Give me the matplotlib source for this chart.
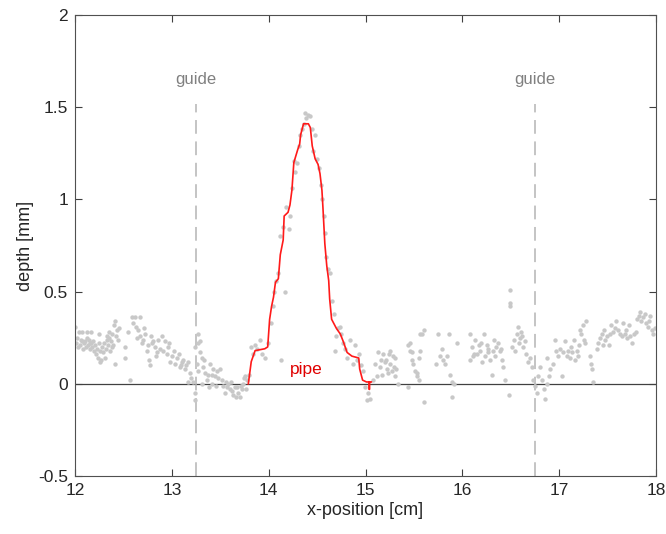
import matplotlib
matplotlib.use('Agg')
import matplotlib.pyplot as plt

plt.rcParams['font.family'] = ['Liberation Sans', 'DejaVu Sans']

# measured scan points (x in cm, depth in mm)
scan_left_x = [12.00, 12.01, 12.02, 12.03, 12.04, 12.05, 12.06, 12.07, 12.08, 12.09,
               12.10, 12.11, 12.12, 12.13, 12.14, 12.15, 12.16, 12.17, 12.18, 12.19,
               12.20, 12.21, 12.22, 12.23, 12.24, 12.25, 12.26, 12.27, 12.28, 12.29,
               12.30, 12.31, 12.32, 12.33, 12.34, 12.35, 12.36, 12.37, 12.38, 12.39,
               12.40, 12.41, 12.42, 12.43, 12.44, 12.45, 12.25, 12.33, 12.07, 12.12,
               12.17, 12.35, 12.38, 12.41, 12.26]
scan_left_y = [0.31, 0.22, 0.25, 0.20, 0.28, 0.21, 0.24, 0.28, 0.19, 0.22,
               0.23, 0.20, 0.28, 0.21, 0.24, 0.19, 0.22, 0.28, 0.20, 0.23,
               0.18, 0.21, 0.16, 0.19, 0.14, 0.22, 0.18, 0.13, 0.20, 0.17,
               0.22, 0.14, 0.19, 0.24, 0.21, 0.25, 0.18, 0.23, 0.27, 0.21,
               0.32, 0.34, 0.26, 0.29, 0.24, 0.30, 0.27, 0.26, 0.23, 0.25,
               0.22, 0.28, 0.20, 0.11, 0.12]

scan_mid_x = [12.52, 12.52, 12.55, 12.57, 12.59, 12.60, 12.62, 12.65, 12.67, 12.67,
              12.69, 12.72, 12.74, 12.76, 12.77, 12.79, 12.81, 12.83, 12.84, 12.86,
              12.88, 12.90, 12.91, 12.93, 12.95, 12.96, 12.98, 13.00, 13.02, 13.03,
              13.05, 13.07, 13.08, 13.10, 13.12, 13.14, 13.15, 13.17, 13.17, 13.19,
              13.20, 13.22, 13.24, 13.24, 13.24, 12.63, 12.70, 12.75, 12.85, 12.64,
              12.97, 13.09, 12.80, 12.71]
scan_mid_y = [0.20, 0.14, 0.28, 0.02, 0.36, 0.33, 0.36, 0.29, 0.36, 0.26,
              0.22, 0.27, 0.18, 0.13, 0.10, 0.26, 0.23, 0.20, 0.15, 0.24,
              0.19, 0.26, 0.18, 0.23, 0.16, 0.20, 0.12, 0.15, 0.18, 0.11,
              0.14, 0.16, 0.09, 0.12, 0.13, 0.08, 0.10, 0.12, 0.01, 0.06,
              0.03, 0.01, -0.05, -0.09, 0.20, 0.31, 0.24, 0.21, 0.17, 0.25,
              0.22, 0.10, 0.22, 0.30]

scan_dip_x = [13.26, 13.27, 13.27, 13.27, 13.29, 13.31, 13.31, 13.32, 13.34, 13.36,
              13.38, 13.39, 13.41, 13.43, 13.45, 13.46, 13.48, 13.50, 13.52, 13.53,
              13.55, 13.56, 13.58, 13.60, 13.62, 13.63, 13.65, 13.67, 13.68, 13.70,
              13.72, 13.74, 13.76, 13.77, 13.78, 13.29, 13.33, 13.37, 13.41, 13.47,
              13.57, 13.61, 13.66, 13.71, 13.75]
scan_dip_y = [0.11, 0.27, 0.22, 0.07, 0.17, 0.14, 0.00, 0.09, 0.06, 0.02,
              -0.02, 0.11, 0.05, 0.08, 0.04, -0.01, 0.03, 0.08, 0.02, -0.01,
              -0.05, 0.01, 0.00, -0.03, -0.04, -0.06, -0.02, -0.02, -0.05, -0.07,
              -0.03, 0.00, 0.04, -0.03, 0.02, 0.23, 0.13, 0.05, 0.00, 0.07,
              -0.02, 0.01, -0.07, -0.01, 0.03]

scan_peak_x = [13.80, 13.82, 13.84, 13.86, 13.88, 13.91, 13.93, 13.96, 13.99, 14.02,
               14.04, 14.06, 14.08, 14.10, 14.12, 14.13, 14.15, 14.17, 14.18, 14.21,
               14.22, 14.24, 14.26, 14.27, 14.29, 14.31, 14.32, 14.34, 14.36, 14.38,
               14.39, 14.41, 14.43, 14.45, 14.46, 14.48, 14.50, 14.52, 14.54, 14.55,
               14.57, 14.58, 14.59, 14.61, 14.63, 14.65, 14.67, 14.69, 14.70, 14.72,
               14.74, 14.75, 14.77, 14.79, 14.81, 14.84, 14.87, 14.89, 14.91, 14.93,
               14.95, 14.97, 14.99, 15.02, 15.03, 15.05]
scan_peak_y = [0.05, 0.20, 0.16, 0.21, 0.19, 0.24, 0.16, 0.14, 0.22, 0.33,
               0.42, 0.50, 0.56, 0.60, 0.80, 0.13, 0.85, 0.50, 0.96, 0.84,
               0.91, 1.06, 1.21, 1.15, 1.20, 1.29, 1.35, 1.38, 1.41, 1.47,
               1.44, 1.46, 1.45, 1.38, 1.26, 1.35, 1.22, 1.17, 1.08, 1.00,
               0.91, 0.82, 0.69, 0.62, 0.60, 0.45, 0.38, 0.18, 0.26, 0.30,
               0.31, 0.27, 0.22, 0.19, 0.14, 0.24, 0.11, 0.21, 0.13, 0.16,
               0.10, 0.07, -0.02, -0.09, -0.05, -0.08]

scan_flat_x = [15.08, 15.10, 15.12, 15.13, 15.15, 15.17, 15.18, 15.20, 15.21, 15.22,
               15.24, 15.25, 15.25, 15.27, 15.29, 15.30, 15.30, 15.32, 15.34, 15.44,
               15.44, 15.46, 15.46, 15.48, 15.48, 15.49, 15.51, 15.53, 15.53, 15.55,
               15.55, 15.56, 15.56, 15.58, 15.60, 15.60, 15.73, 15.75, 15.77, 15.79,
               15.80, 15.82, 15.84, 15.86, 15.87, 15.89, 15.89, 15.91, 15.94, 15.23,
               15.16, 15.28]
scan_flat_y = [0.02, 0.11, 0.04, 0.17, 0.09, 0.05, 0.16, 0.12, 0.13, 0.08,
               0.16, 0.11, 0.18, 0.07, 0.09, 0.04, 0.14, 0.08, 0.00, -0.02,
               0.21, 0.22, 0.18, 0.17, 0.13, 0.11, 0.07, 0.06, 0.04, 0.14,
               0.02, 0.27, 0.18, 0.27, 0.29, -0.10, 0.11, 0.27, 0.15, 0.19,
               0.13, 0.11, 0.15, 0.27, 0.05, 0.01, -0.07, 0.00, 0.22, 0.06,
               0.13, 0.15]

scan_right_x = [16.08, 16.08, 16.10, 16.12, 16.13, 16.15, 16.17, 16.18, 16.20, 16.22,
                16.23, 16.25, 16.27, 16.29, 16.31, 16.32, 16.34, 16.35, 16.37, 16.39,
                16.41, 16.42, 16.44, 16.48, 16.49, 16.49, 16.49, 16.51, 16.53, 16.54,
                16.56, 16.58, 16.60, 16.61, 16.63, 16.65, 16.66, 16.68, 16.70, 16.72,
                16.73, 16.75, 16.77, 16.78, 16.80, 16.82, 16.84, 16.85, 16.87, 16.87,
                16.89, 16.91, 16.94, 16.96, 16.97, 16.99, 16.11, 16.19, 16.26, 16.33,
                16.40, 16.57, 16.62]
scan_right_y = [0.27, 0.13, 0.20, 0.16, 0.24, 0.16, 0.21, 0.18, 0.12, 0.27,
                0.15, 0.21, 0.17, 0.13, 0.05, 0.18, 0.15, 0.20, 0.22, 0.18,
                0.13, 0.09, 0.02, -0.06, 0.51, 0.44, 0.42, 0.20, 0.24, 0.18,
                0.27, 0.22, 0.25, 0.28, 0.20, 0.23, 0.16, 0.12, 0.14, 0.09,
                0.02, -0.01, -0.05, 0.04, 0.09, 0.02, -0.03, -0.08, 0.00, 0.14,
                0.04, 0.08, 0.11, 0.24, 0.18, 0.15, 0.15, 0.22, 0.19, 0.24,
                0.19, 0.31, 0.26]

scan_end_x = [17.01, 17.03, 17.04, 17.06, 17.08, 17.09, 17.11, 17.13, 17.15, 17.16,
              17.18, 17.20, 17.22, 17.23, 17.25, 17.27, 17.28, 17.32, 17.33, 17.34,
              17.35, 17.39, 17.40, 17.42, 17.44, 17.46, 17.47, 17.49, 17.51, 17.53,
              17.54, 17.56, 17.59, 17.61, 17.63, 17.65, 17.66, 17.68, 17.70, 17.72,
              17.73, 17.75, 17.77, 17.80, 17.82, 17.83, 17.85, 17.87, 17.89, 17.90,
              17.92, 17.94, 17.96, 17.97, 17.99, 17.12, 17.19, 17.26, 17.45, 17.58,
              17.69, 17.79, 17.93]
scan_end_y = [0.19, 0.04, 0.17, 0.23, 0.15, 0.18, 0.14, 0.17, 0.24, 0.13,
              0.18, 0.21, 0.29, 0.27, 0.32, 0.22, 0.34, 0.15, 0.11, 0.08,
              0.01, 0.19, 0.22, 0.25, 0.27, 0.29, 0.24, 0.26, 0.21, 0.27,
              0.32, 0.28, 0.34, 0.29, 0.27, 0.26, 0.33, 0.27, 0.25, 0.32,
              0.26, 0.22, 0.27, 0.35, 0.37, 0.39, 0.34, 0.36, 0.38, 0.33,
              0.31, 0.37, 0.29, 0.27, 0.30, 0.20, 0.15, 0.24, 0.21, 0.30,
              0.29, 0.28, 0.34]

# fitted pipe profile
pipe_x = [13.79, 13.82, 13.84, 13.86, 13.96, 13.99, 14.01, 14.03, 14.05, 14.07,
          14.10, 14.12, 14.15, 14.16, 14.20, 14.22, 14.24, 14.26, 14.30, 14.32,
          14.33, 14.36, 14.41, 14.43, 14.45, 14.48, 14.51, 14.53, 14.55, 14.56,
          14.58, 14.60, 14.62, 14.63, 14.65, 14.70, 14.74, 14.77, 14.81, 14.86,
          14.93, 14.94, 14.97, 15.01, 15.04, 15.04, 15.04, 15.06]
pipe_y = [0.00, 0.12, 0.15, 0.18, 0.19, 0.20, 0.35, 0.42, 0.47, 0.55,
          0.57, 0.70, 0.78, 0.91, 0.93, 0.97, 1.05, 1.20, 1.27, 1.30,
          1.35, 1.41, 1.41, 1.39, 1.29, 1.22, 1.19, 1.14, 1.05, 0.96,
          0.76, 0.64, 0.56, 0.46, 0.35, 0.30, 0.27, 0.23, 0.17, 0.15,
          0.14, 0.08, 0.02, 0.01, 0.01, -0.03, 0.01, 0.01]

guide_x = [13.25, 16.75]

scan_x = scan_left_x + scan_mid_x + scan_dip_x + scan_peak_x + scan_flat_x + scan_right_x + scan_end_x
scan_y = scan_left_y + scan_mid_y + scan_dip_y + scan_peak_y + scan_flat_y + scan_right_y + scan_end_y

fig = plt.figure(figsize=(6.66, 5.34), dpi=100)
ax = fig.add_axes([0.1126, 0.1086, 0.8724, 0.8633])

ax.scatter(scan_x, scan_y, s=10, color='#c8c8c8', linewidths=0, zorder=2)
ax.axhline(0, color='#404040', lw=0.9, zorder=1)
ax.plot(pipe_x, pipe_y, color='#ff1a1a', lw=1.2, zorder=3)

for gx in guide_x:
    ax.plot([gx, gx], [-0.5, 1.52], color='#b4b4b4', lw=1.1,
            dashes=(9, 5), zorder=1)
    ax.text(gx, 1.65, 'guide', color='#808080', fontsize=12,
            ha='center', va='center')

ax.text(14.39, 0.08, 'pipe', color='#e00000', fontsize=12.5,
        ha='center', va='center')

ax.set_xlim(12, 18)
ax.set_ylim(-0.5, 2)
ax.set_xticks([12, 13, 14, 15, 16, 17, 18])
ax.set_yticks([-0.5, 0, 0.5, 1, 1.5, 2])
ax.set_yticklabels(['-0.5', '0', '0.5', '1', '1.5', '2'])
ax.tick_params(direction='in', top=True, right=True, length=5,
               width=0.8, color='#404040', labelsize=12.5, labelcolor='#262626')
ax.tick_params(axis='x', pad=5)
ax.tick_params(axis='y', pad=5)
for sp in ax.spines.values():
    sp.set_color('#505050')
    sp.set_linewidth(0.8)

ax.set_xlabel('x-position [cm]', fontsize=13, color='#262626', labelpad=3)
ax.set_ylabel('depth [mm]', fontsize=13, color='#262626', labelpad=3)

fig.savefig('out.png', dpi=100)
